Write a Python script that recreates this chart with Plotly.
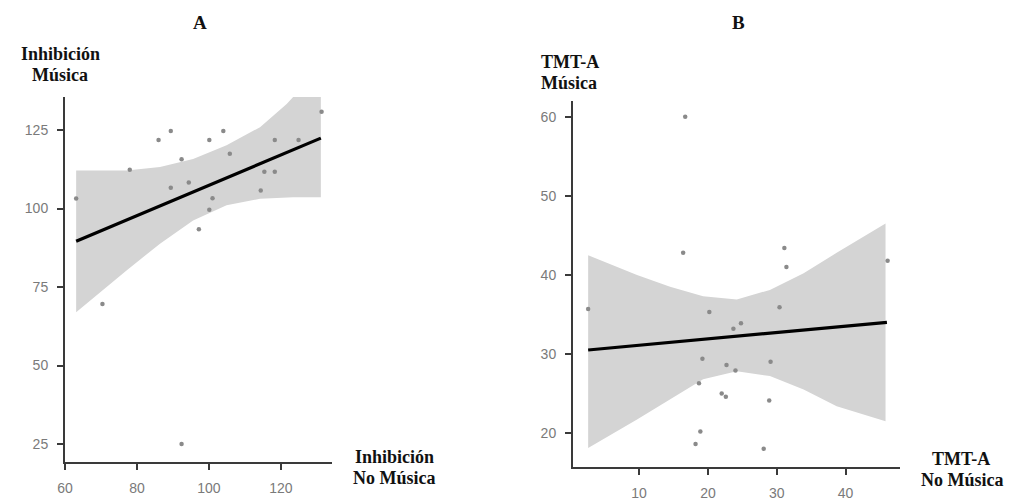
import plotly.graph_objects as go

# ---------------- Panel A data ----------------
a_x = [63.1, 78.0, 86.0, 89.4, 92.4, 89.4, 94.4, 100.1, 104.0, 105.8, 101.0,
       100.1, 97.2, 115.4, 118.3, 118.3, 114.4, 124.9, 131.3, 70.4, 92.4]
a_y = [103.2, 112.3, 121.8, 124.7, 115.7, 106.6, 108.3, 121.8, 124.7, 117.4, 103.3,
       99.6, 93.4, 111.7, 111.7, 121.8, 105.7, 121.8, 130.8, 69.6, 25.0]
a_fit_x = [63.1, 131.1]
a_fit_y = [89.6, 122.4]
a_band_x = [63.1, 77.1, 86.4, 95.6, 104.9, 114.2, 121.6, 123.4, 131.1]
a_band_hi = [112.1, 112.1, 113.2, 115.8, 120.1, 125.9, 133.3, 135.5, 142.0]
a_band_lo = [67.0, 80.3, 88.8, 96.2, 101.0, 103.1, 103.5, 103.6, 103.6]
a_xticks = [60, 80, 100, 120]
a_yticks = [25, 50, 75, 100, 125]

# ---------------- Panel B data ----------------
b_x = [2.6, 16.4, 20.2, 19.2, 18.7, 18.9, 18.2, 22.0, 22.6, 22.7, 24.0, 23.7,
       24.8, 28.1, 28.9, 29.1, 30.4, 31.1, 31.4, 46.1, 16.7]
b_y = [35.7, 42.8, 35.3, 29.4, 26.3, 20.2, 18.6, 25.0, 24.6, 28.6, 27.9, 33.2,
       33.9, 18.0, 24.1, 29.0, 35.9, 43.4, 41.0, 41.8, 60.0]
b_fit_x = [2.6, 46.0]
b_fit_y = [30.5, 34.0]
b_band_x = [2.6, 9.7, 14.5, 19.3, 24.2, 29.0, 33.9, 38.7, 45.8]
b_band_hi = [42.5, 40.0, 38.5, 37.3, 36.9, 38.1, 40.2, 42.8, 46.5]
b_band_lo = [18.1, 21.7, 24.2, 26.8, 27.8, 27.2, 25.5, 23.4, 21.5]
b_xticks = [10, 20, 30, 40]
b_yticks = [20, 30, 40, 50, 60]

W, H = 1016, 501
BAND = "#d4d4d4"
PT = "#8a8a8a"
AX = "#3a3a3a"
TICKC = "#7a7a7a"
SERIF = "Liberation Serif, Times New Roman, serif"
SANS = "Liberation Sans, Arial, sans-serif"

fig = go.Figure()

def add_panel(xa, ya, bx, hi, lo, fx, fy, px, py):
    fig.add_trace(go.Scatter(
        x=bx + bx[::-1], y=hi + lo[::-1], fill="toself", fillcolor=BAND,
        line=dict(width=0), mode="lines", hoverinfo="skip", showlegend=False,
        xaxis=xa, yaxis=ya))
    fig.add_trace(go.Scatter(
        x=px, y=py, mode="markers", marker=dict(size=4.5, color=PT),
        showlegend=False, xaxis=xa, yaxis=ya, cliponaxis=False))
    fig.add_trace(go.Scatter(
        x=fx, y=fy, mode="lines", line=dict(color="black", width=3.2),
        showlegend=False, xaxis=xa, yaxis=ya))

add_panel("x", "y", a_band_x, a_band_hi, a_band_lo, a_fit_x, a_fit_y, a_x, a_y)
add_panel("x2", "y2", b_band_x, b_band_hi, b_band_lo, b_fit_x, b_fit_y, b_x, b_y)

def axis_style(**kw):
    d = dict(showline=True, linecolor=AX, linewidth=2, showgrid=False,
             zeroline=False, ticks="outside", ticklen=6, tickwidth=2,
             tickcolor=AX, tickfont=dict(family=SANS, size=14, color=TICKC),
             fixedrange=True, automargin=False)
    d.update(kw)
    return d

fig.update_layout(
    template="none",
    width=W, height=H, margin=dict(l=0, r=0, t=0, b=0, autoexpand=False),
    paper_bgcolor="white", plot_bgcolor="white", showlegend=False,
    xaxis=axis_style(domain=[65 / W, 332 / W], range=[60, 134.2],
                     tickvals=a_xticks, anchor="y", ticklabelstandoff=6),
    yaxis=axis_style(domain=[1 - 462 / H, 1 - 97 / H], range=[19.3, 135.5],
                     tickvals=a_yticks, anchor="x", ticklabelstandoff=6),
    xaxis2=axis_style(domain=[573 / W, 900 / W], range=[0.4, 47.9],
                      tickvals=b_xticks, anchor="y2", ticklabelstandoff=6),
    yaxis2=axis_style(domain=[1 - 467 / H, 1 - 101 / H], range=[15.7, 62.0],
                      tickvals=b_yticks, anchor="x2", ticklabelstandoff=6),
)

def label(text, x, y, size=18, xanchor="center"):
    fig.add_annotation(text="<b>%s</b>" % text, x=x / W, y=1 - y / H,
                       xref="paper", yref="paper", showarrow=False,
                       xanchor=xanchor, yanchor="middle",
                       font=dict(family=SERIF, size=size, color="#111"))

label("A", 200, 22, size=19)
label("B", 738, 22, size=19)
label("Inhibición", 60, 54)
label("Música", 60, 75)
label("TMT-A", 539, 62, xanchor="left")
label("Música", 539, 83, xanchor="left")
label("Inhibición", 394, 457)
label("No Música", 394, 478)
label("TMT-A", 961, 459)
label("No Música", 962, 480)

fig.write_html(
    "out.html",
    config={"displayModeBar": False},
    post_script="document.body.style.margin='0';"
                "document.body.style.overflow='hidden';",
)
